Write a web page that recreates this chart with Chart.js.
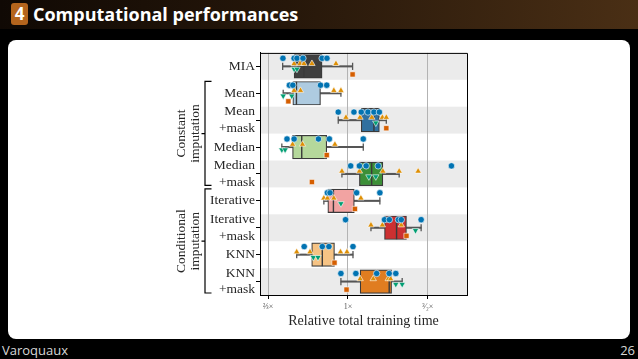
<!DOCTYPE html>
<html><head><meta charset="utf-8">
<script src="https://cdn.jsdelivr.net/npm/chart.js@4.4.1/dist/chart.umd.min.js"></script>
<style>
html,body{margin:0;padding:0;background:#000;width:638px;height:359px;overflow:hidden;position:relative;}
#hdr{position:absolute;left:0;top:0;width:638px;height:29px;background:linear-gradient(to right,#100904 0%,#26170a 45%,#4a2f15 100%);}
#num{position:absolute;left:11px;top:3px;width:17px;height:22px;background:#b5651d;border-radius:3px;color:#fff;font:bold 17px 'Open Sans',sans-serif;text-align:center;line-height:22px;}
#title{position:absolute;left:33px;top:1px;color:#fff;font:bold 18px 'Open Sans',sans-serif;line-height:26px;white-space:nowrap;}
#panel{position:absolute;left:8px;top:40px;width:622px;height:299px;background:#fff;border-radius:8px;}
#footl{position:absolute;left:2px;top:341px;color:#d8d8d8;font:13px 'Open Sans',sans-serif;line-height:18px;}
#footr{position:absolute;right:3px;top:341px;color:#d8d8d8;font:13px 'Open Sans',sans-serif;line-height:18px;}
#wrap{position:absolute;left:150px;top:40px;width:330px;height:300px;}
</style></head>
<body>
<div id="hdr"></div>
<div id="num">4</div>
<div id="title">Computational performances</div>
<div id="panel"></div>
<div id="wrap"><canvas id="c" width="330" height="300"></canvas></div>
<div id="footl">Varoquaux</div>
<div id="footr">26</div>
<script>
// ---------- data ----------
const categories = [['MIA'],['Mean'],['Mean','+mask'],['Median'],['Median','+mask'],['Iterative'],['Iterative','+mask'],['KNN'],['KNN','+mask']];
const groups = [{label:['Constant','imputation'], from:1, to:4},{label:['Conditional','imputation'], from:5, to:8}];
const xTickValues = [2/3, 1, 1.5];
const xTickLabels = ['\u2154\u00d7', '1\u00d7', '\u00b3\u2044\u2082\u00d7'];
const q1      = [0.761,0.756,1.070,0.755,1.060,0.903,1.204,0.832,1.064];
const medians = [0.800,0.770,1.141,0.791,1.128,0.929,1.280,0.878,1.233];
const q3      = [0.877,0.870,1.173,0.898,1.194,1.033,1.346,0.934,1.248];
const whiskLo = [0.718,0.720,0.952,0.715,0.970,0.885,1.124,0.771,0.965];
const whiskHi = [1.024,0.965,1.215,1.081,1.297,1.176,1.450,1.026,1.317];
const circles = [
  [0.719,0.761,0.772,0.796,0.877,0.899],
  [0.743,0.756,0.870,0.898],
  [0.952,1.031,1.070,1.107,1.141,1.173],
  [0.734,0.761,0.861,0.910,1.081],
  [1.014,1.060,1.097,1.166,1.691],
  [0.901,0.913,1.045,1.176],
  [0.988,1.204,1.234,1.292,1.311,1.450],
  [0.801,0.878,0.908,1.026],
  [0.965,1.041,1.157,1.233,1.275]];
const triangles = [
  [0.761,0.784,0.800,0.833,0.941],
  [0.761,0.786,0.931,0.965],
  [0.990,1.063,1.129,1.191,1.215],
  [0.755,0.794,0.936],
  [0.970,1.060,1.194,1.297,1.428],
  [0.885,0.901,0.931,1.068],
  [1.124,1.191,1.311],
  [0.771,0.825,0.963,0.995],
  [1.064,1.137,1.227,1.242]];
const downTriangles = [[0.761,0.772],[0.720,0.752],[1.152],[0.715,0.727],[1.112,1.152],[0.965],[1.409],[0.839,0.859],[1.275,1.317]];
const squares = [1.024,0.739,1.215,0.898,0.833,1.036,1.346,0.934,0.993];

// ---------- styles ----------
const boxColors = ['#3f3f3f','#aecbe0','#30709f','#b5d89b','#3c8f37','#f2a3a2','#cc3031','#f6c384','#e07d20'];
const serif = "'Liberation Serif','DejaVu Serif',serif";
const textColor = '#262626';

const decor = {
  id:'decor',
  beforeDraw(chart){
    const {ctx, chartArea:a, scales:{y}} = chart;
    ctx.save(); ctx.fillStyle='#ebebeb';
    for (let i=0;i<categories.length;i+=2){
      const t=y.getPixelForValue(i-0.5), b=y.getPixelForValue(i+0.5);
      ctx.fillRect(a.left,t,a.right-a.left,b-t);
    }
    ctx.restore();
  },
  afterDraw(chart){
    const {ctx, chartArea:a, scales:{y}} = chart;
    ctx.save();
    ctx.strokeStyle='#000'; ctx.lineWidth=1;
    ctx.beginPath();
    ctx.moveTo(a.left,a.top+0.5); ctx.lineTo(a.right+0.5,a.top+0.5); ctx.lineTo(a.right+0.5,a.bottom);
    ctx.stroke();
    // group brackets
    const bx = a.left-55, bEnd = a.left-48.5;
    ctx.lineWidth=1.2;
    groups.forEach(g=>{
      const t = y.getPixelForValue(g.from-0.5)+1.5, b = y.getPixelForValue(g.to+0.5)-2;
      const m = (y.getPixelForValue(g.from-0.5)+y.getPixelForValue(g.to+0.5))/2;
      ctx.beginPath();
      ctx.moveTo(bEnd,t); ctx.lineTo(bx,t); ctx.lineTo(bx,b); ctx.lineTo(bEnd,b);
      ctx.moveTo(bx,m); ctx.lineTo(bx-3.5,m);
      ctx.stroke();
      ctx.save();
      ctx.translate(0,m); ctx.rotate(-Math.PI/2);
      ctx.fillStyle=textColor; ctx.font='13.5px '+serif; ctx.textAlign='center'; ctx.textBaseline='middle';
      ctx.fillText(g.label[0],0,a.left-79);
      ctx.fillText(g.label[1],0,a.left-64.5);
      ctx.restore();
    });
    ctx.restore();
  }
};

// ---------- datasets ----------
const rows = categories.map((c,i)=>i);
const datasets = [
  {type:'scatter', label:'circles', data: circles.flatMap((arr,i)=>arr.map(v=>({x:v,y:i-0.3}))),
   pointStyle:'circle', pointRadius:3.2, backgroundColor:'#0173b2', borderColor:'#fff', borderWidth:0.6, order:1},
  {type:'scatter', label:'triangles', data: triangles.flatMap((arr,i)=>arr.map(v=>({x:v,y:i-0.1}))),
   pointStyle:'triangle', pointRadius:3.7, backgroundColor:'#de8f05', borderColor:'#fff', borderWidth:0.6, order:1},
  {type:'scatter', label:'down', data: downTriangles.flatMap((arr,i)=>arr.map(v=>({x:v,y:i+0.1}))),
   pointStyle:'triangle', rotation:180, pointRadius:3.7, backgroundColor:'#029e73', borderColor:'#fff', borderWidth:0.6, order:1},
  {type:'scatter', label:'squares', data: squares.map((v,i)=>({x:v,y:i+0.3})),
   pointStyle:'rect', pointRadius:3.7, backgroundColor:'#d55e00', borderColor:'#fff', borderWidth:0.6, order:1},
  {type:'scatter', label:'median', data: rows.map(i=>({x:medians[i],y:i})),
   pointStyle:'line', rotation:90, pointRadius:11.5, borderColor:'#3a3a3a', borderWidth:1.4, order:2},
  {type:'scatter', label:'caps', data: rows.flatMap(i=>[{x:whiskLo[i],y:i},{x:whiskHi[i],y:i}]),
   pointStyle:'line', rotation:90, pointRadius:3.6, borderColor:'#555', borderWidth:1.3, order:3},
  {type:'bar', label:'box', indexAxis:'y', grouped:false, barThickness:23.5,
   data: rows.map(i=>({y:i, x:[q1[i], q3[i]]})), backgroundColor: boxColors,
   borderColor:'#3a3a3a', borderWidth:1.2, borderSkipped:false, order:4},
  {type:'bar', label:'whiskLo', indexAxis:'y', grouped:false, barThickness:1.4,
   data: rows.map(i=>({y:i, x:[whiskLo[i], q1[i]]})), backgroundColor:'#555', borderWidth:0, order:5},
  {type:'bar', label:'whiskHi', indexAxis:'y', grouped:false, barThickness:1.4,
   data: rows.map(i=>({y:i, x:[q3[i], whiskHi[i]]})), backgroundColor:'#555', borderWidth:0, order:5}
];

new Chart(document.getElementById('c'), {
  type:'scatter',
  data:{datasets},
  options:{
    responsive:false, animation:false, events:[],
    layout:{padding:{left:0,right:13,top:10,bottom:0}},
    plugins:{legend:{display:false}, tooltip:{enabled:false}},
    scales:{
      x:{type:'logarithmic', min:0.64, max:1.83, bounds:'data', beginAtZero:false, offset:false,
         afterBuildTicks:s=>{s.ticks = xTickValues.map(v=>({value:v}));},
         afterFit:s=>{s.height=45; s.paddingLeft=0; s.paddingRight=0;},
         grid:{color:'#b3b3b3', lineWidth:1, tickLength:4, tickColor:'#000', drawOnChartArea:true, offset:false},
         border:{color:'#000', width:1},
         ticks:{autoSkip:false, maxRotation:0, padding:3, color:'#555', font:{family:serif, size:8},
                callback:(v)=>{const k=xTickValues.findIndex(t=>Math.abs(t-v)<1e-6); return k>=0?xTickLabels[k]:'';}},
         title:{display:true, text:'Relative total training time', color:textColor, font:{family:serif, size:14}, padding:{top:0,bottom:10}}
      },
      y:{type:'linear', reverse:true, min:-0.5, max:8.5, bounds:'data', offset:false, beginAtZero:false,
         afterBuildTicks:s=>{s.ticks = categories.map((c,i)=>({value:i}));},
         afterFit:s=>{s.width=110; s.paddingTop=0; s.paddingBottom=0;},
         grid:{drawOnChartArea:false, tickLength:4, tickColor:'#000', offset:false},
         border:{color:'#000', width:1},
         ticks:{autoSkip:false, padding:1, color:textColor, font:{family:serif, size:13.5, lineHeight:1.23},
                callback:(v)=>categories[v]}
      }
    }
  },
  plugins:[decor]
});
</script>
</body></html>
